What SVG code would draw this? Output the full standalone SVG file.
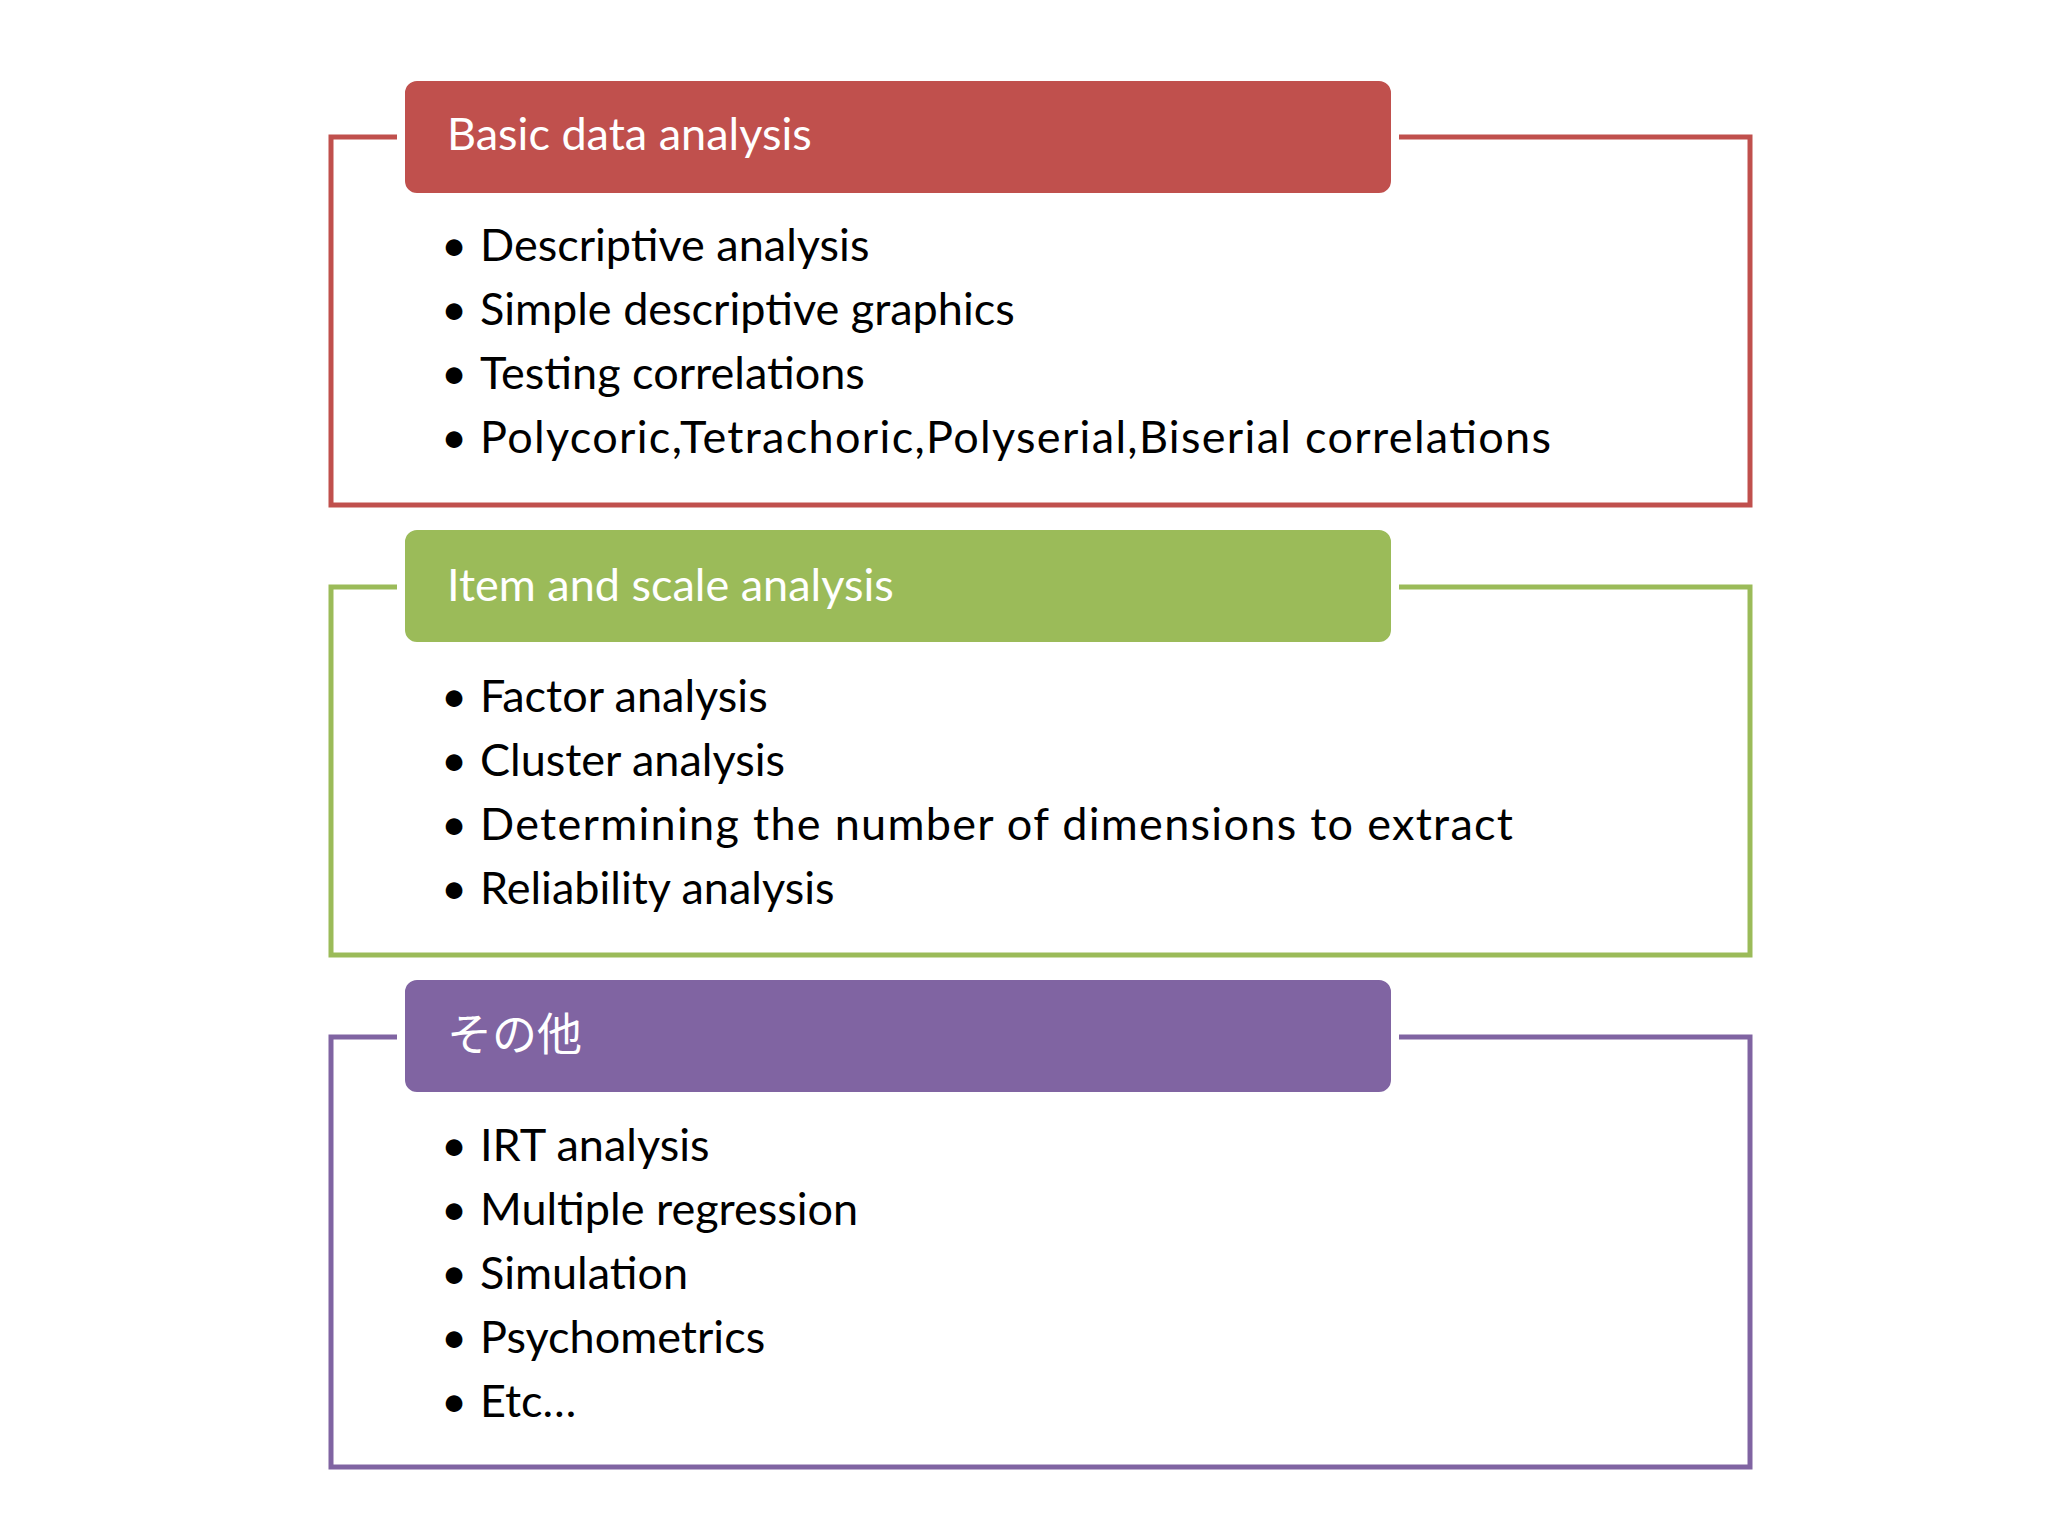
<svg xmlns="http://www.w3.org/2000/svg" width="2048" height="1536" viewBox="0 0 2048 1536">
<style>
.o{fill:none;stroke-width:5}
.h{stroke:#fff;stroke-width:8}
.t{font-family:Lato,"Noto Sans CJK JP",sans-serif;font-size:45px;fill:#fff}
.b{font-family:Lato,"Noto Sans CJK JP",sans-serif;font-size:45px;fill:#000}
</style>
<rect width="2048" height="1536" fill="#fff"/>
<g id="basic">
<rect class="o" x="331" y="137" width="1419" height="368" stroke="#c0504d"/>
<rect class="h" x="401" y="77" width="994" height="120" rx="16" fill="#c0504d"/>
<text class="t" x="447" y="150">Basic data analysis</text>
<text class="b" x="441" y="261">•</text><text class="b" x="480" y="261">Descriptive analysis</text>
<text class="b" x="441" y="325">•</text><text class="b" x="480" y="325">Simple descriptive graphics</text>
<text class="b" x="441" y="389">•</text><text class="b" x="480" y="389">Testing correlations</text>
<text class="b" x="441" y="453">•</text><text class="b" x="480" y="453" textLength="1071">Polycoric,Tetrachoric,Polyserial,Biserial correlations</text>
</g>
<g id="item">
<rect class="o" x="331" y="587" width="1419" height="368" stroke="#9bbb59"/>
<rect class="h" x="401" y="526" width="994" height="120" rx="16" fill="#9bbb59"/>
<text class="t" x="447" y="601">Item and scale analysis</text>
<text class="b" x="441" y="712">•</text><text class="b" x="480" y="712">Factor analysis</text>
<text class="b" x="441" y="776">•</text><text class="b" x="480" y="776">Cluster analysis</text>
<text class="b" x="441" y="840">•</text><text class="b" x="480" y="840" textLength="1033">Determining the number of dimensions to extract</text>
<text class="b" x="441" y="904">•</text><text class="b" x="480" y="904">Reliability analysis</text>
</g>
<g id="other">
<rect class="o" x="331" y="1037" width="1419" height="430" stroke="#8064a2"/>
<rect class="h" x="401" y="976" width="994" height="120" rx="16" fill="#8064a2"/>
<text class="t" x="447" y="1051">その他</text>
<text class="b" x="441" y="1161">•</text><text class="b" x="480" y="1161">IRT analysis</text>
<text class="b" x="441" y="1225">•</text><text class="b" x="480" y="1225">Multiple regression</text>
<text class="b" x="441" y="1289">•</text><text class="b" x="480" y="1289">Simulation</text>
<text class="b" x="441" y="1353">•</text><text class="b" x="480" y="1353">Psychometrics</text>
<text class="b" x="441" y="1417">•</text><text class="b" x="480" y="1417">Etc…</text>
</g>
<g id="connectors"/>
</svg>
